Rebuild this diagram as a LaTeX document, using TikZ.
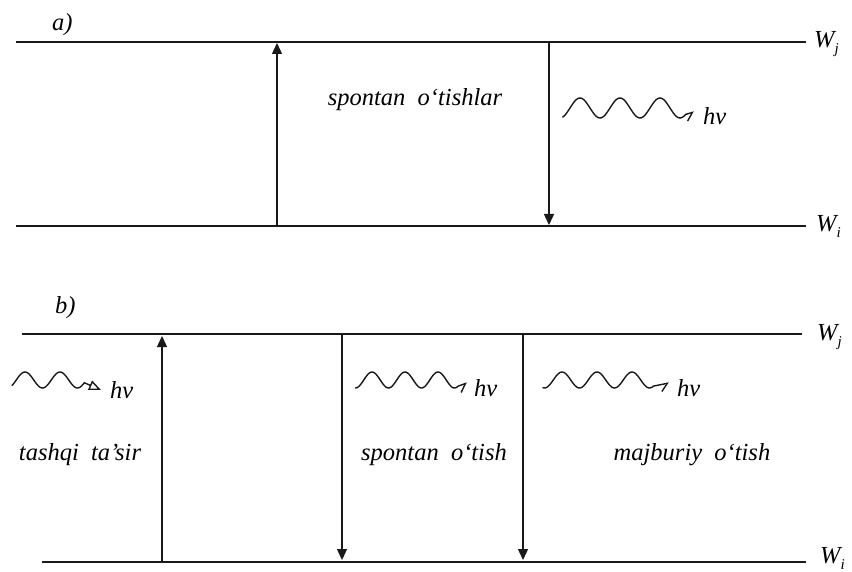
\documentclass[tikz,border=0pt]{standalone}
\usepackage{fontspec}
\setmainfont{Liberation Serif}
\usetikzlibrary{arrows.meta,positioning}
\tikzset{
  level/.style={line width=1.5pt,draw=black!90},
  trans/.style={-{Triangle[length=11pt,width=10pt]},line width=1.3pt,draw=black!90},
  photon/.style={line width=1.4pt,draw=black!90,-{Straight Barb[right,length=7pt,width=14pt]}},
  lbl/.style={font=\itshape\fontsize{24.5}{28}\selectfont,inner sep=0pt},
  lvlname/.style={lbl,anchor=base west},
}
\newcommand{\lvl}[1]{\textit{W}\raisebox{-6pt}{\fontsize{15}{15}\selectfont\itshape #1}}

\begin{document}
\begin{tikzpicture}[x=1pt,y=-1pt]
  \useasboundingbox (0,0) rectangle (852,572);
  % a) two levels, absorption up and spontaneous down
  \coordinate (aJl) at (16,42);  \coordinate (aJr) at (806,42);
  \coordinate (aIl) at (16,226); \coordinate (aIr) at (806,226);
  \draw[level] (aJl) -- (aJr);
  \draw[level] (aIl) -- (aIr);
  \node[lvlname] (aJ) at (814,48) {\lvl{j}};
  \node[lvlname] (aI) at (816,232) {\lvl{i}};
  \node[lbl,anchor=base west] (la) at (52,31) {a)};
  \coordinate (a1i) at (277,226); \coordinate (a1j) at (277,43);
  \coordinate (a2j) at (549,42);  \coordinate (a2i) at (549,225);
  \draw[trans] (a1i) -- (a1j);
  \draw[trans] (a2j) -- (a2i);
  \node[lbl] (ta) at (415,100) {spontan\ \ o‘tishlar};
  \draw[photon] plot[domain=-68:1040,samples=90] ({570+\x/360*40},{108-10*sin(\x)}) -- (694,112);
  \node[lbl,anchor=west] (ha) at (703,116) {hv};
  % b) three transitions
  \coordinate (bJl) at (22,334); \coordinate (bJr) at (802,334);
  \coordinate (bIl) at (42,562); \coordinate (bIr) at (806,562);
  \draw[level] (bJl) -- (bJr);
  \draw[level] (bIl) -- (bIr);
  \node[lvlname] (bJ) at (817,340) {\lvl{j}};
  \node[lvlname] (bI) at (820,563) {\lvl{i}};
  \node[lbl,anchor=base west] (lb) at (55,313) {b)};
  \coordinate (b1i) at (162,562); \coordinate (b1j) at (162,336);
  \coordinate (b2j) at (342,334); \coordinate (b2i) at (342,560);
  \coordinate (b3j) at (523,334); \coordinate (b3i) at (523,560);
  \draw[trans] (b1i) -- (b1j);
  \draw[trans] (b2j) -- (b2i);
  \draw[trans] (b3j) -- (b3i);
  \node[lbl] (tb1) at (80,455) {tashqi\ \ ta’sir};
  \node[lbl] (tb2) at (434,455) {spontan\ \ o‘tish};
  \node[lbl] (tb3) at (692,455) {majburiy\ \ o‘tish};
  \draw[line width=1.4pt,draw=black!90,-{Triangle[open,length=12pt,width=10pt]}]
    plot[domain=-45:700,samples=60] ({16.25+\x/360*35},{380-8*sin(\x)}) -- (101,390);
  \node[lbl,anchor=west] (hb1) at (110,390) {hv};
  \draw[photon] plot[domain=-95:1030,samples=90] ({363.75+\x/360*33},{380-8*sin(\x)}) -- (467,383);
  \node[lbl,anchor=west] (hb2) at (474,388) {hv};
  \draw[photon] plot[domain=-110:1030,samples=90] ({553.25+\x/360*35},{380-8*sin(\x)}) -- (669,383);
  \node[lbl,anchor=west] (hb3) at (677,388) {hv};
\end{tikzpicture}
\end{document}
